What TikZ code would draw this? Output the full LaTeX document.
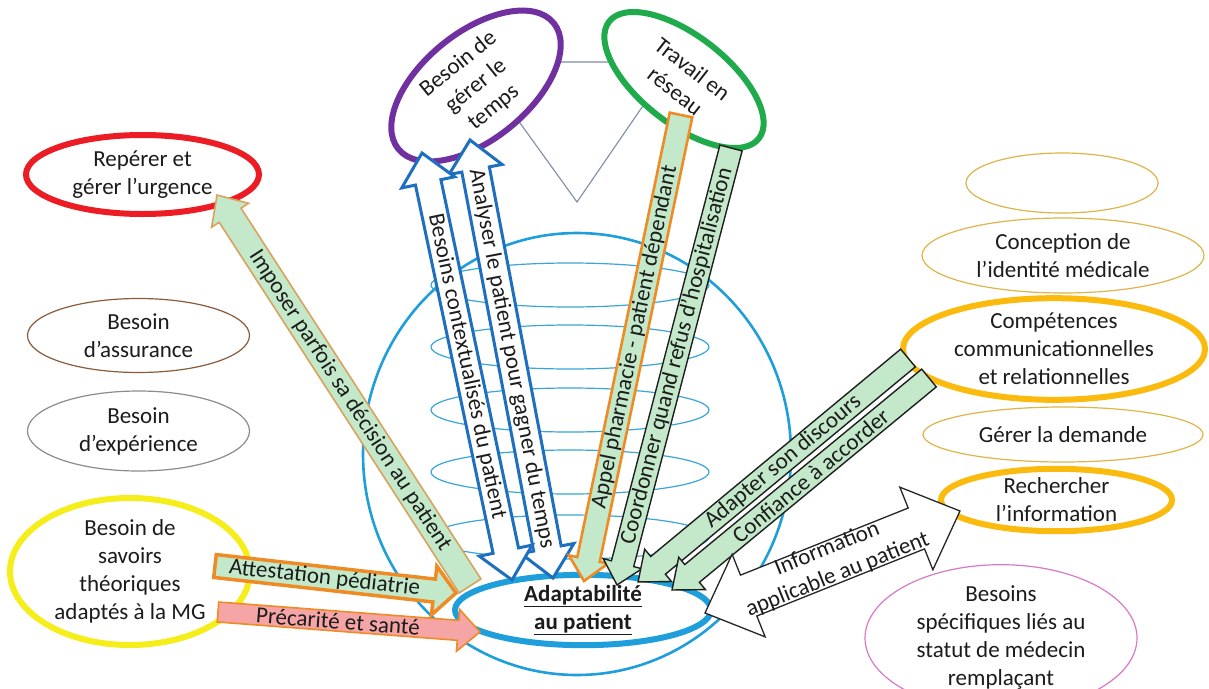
\documentclass[tikz,border=0pt]{standalone}
\usepackage{fontspec}
\setmainfont{Carlito}
\usetikzlibrary{shapes.geometric}

\definecolor{txtc}{HTML}{1C1C1C}
\definecolor{urgred}{HTML}{EC1C24}
\definecolor{purp}{HTML}{7030A0}
\definecolor{grnc}{HTML}{1FAA4B}
\definecolor{yelc}{HTML}{F5EE1A}
\definecolor{goldc}{HTML}{FBBA0E}
\definecolor{goldthin}{HTML}{DDB548}
\definecolor{brownc}{HTML}{8A5A3A}
\definecolor{grayc}{HTML}{8C8C8C}
\definecolor{pinkc}{HTML}{D67AC8}
\definecolor{skyb}{HTML}{1E9FDB}
\definecolor{ringb}{HTML}{3AA6D6}
\definecolor{arrblue}{HTML}{1F6FBF}
\definecolor{orng}{HTML}{EF8B24}
\definecolor{tanc}{HTML}{D9A35E}
\definecolor{lgrn}{HTML}{C3E8CA}
\definecolor{pinkf}{HTML}{F5A5A5}
\definecolor{trig}{HTML}{7F8DA6}

% block arrow with one head: style, label name, tail, tip, shaft width, head width, head length, label
\newcommand\blockarrow[8]{%
  \pgfpointdiff{\pgfpointanchor{#3}{center}}{\pgfpointanchor{#4}{center}}%
  \pgfgetlastxy{\arrdx}{\arrdy}%
  \pgfmathsetmacro\arrlen{veclen(\arrdx,\arrdy)}%
  \pgfmathsetmacro\arrang{atan2(\arrdy,\arrdx)}%
  \pgfmathsetmacro\arrtxt{\arrang>90 ? \arrang-180 : (\arrang<-90 ? \arrang+180 : \arrang)}%
  \pgfmathsetmacro\arrsw{#5/2}%
  \pgfmathsetmacro\arrhw{#6/2}%
  \pgfmathsetmacro\arrhb{\arrlen-#7}%
  \pgfmathsetmacro\arrmid{\arrhb/2}%
  \begin{scope}[shift={(#3)}, rotate=\arrang]
    \draw[#1] (0pt,-\arrsw pt) -- (\arrhb pt,-\arrsw pt) -- (\arrhb pt,-\arrhw pt)
      -- (\arrlen pt,0pt) -- (\arrhb pt,\arrhw pt) -- (\arrhb pt,\arrsw pt)
      -- (0pt,\arrsw pt) -- cycle;
    \node[lbl, rotate=\arrtxt] (#2) at (\arrmid pt,0pt) {#8};
  \end{scope}%
}
% block arrow with a head at both ends
\newcommand\blockdarrow[8]{%
  \pgfpointdiff{\pgfpointanchor{#3}{center}}{\pgfpointanchor{#4}{center}}%
  \pgfgetlastxy{\arrdx}{\arrdy}%
  \pgfmathsetmacro\arrlen{veclen(\arrdx,\arrdy)}%
  \pgfmathsetmacro\arrang{atan2(\arrdy,\arrdx)}%
  \pgfmathsetmacro\arrtxt{\arrang>90 ? \arrang-180 : (\arrang<-90 ? \arrang+180 : \arrang)}%
  \pgfmathsetmacro\arrsw{#5/2}%
  \pgfmathsetmacro\arrhw{#6/2}%
  \pgfmathsetmacro\arrhb{\arrlen-#7}%
  \pgfmathsetmacro\arrmid{\arrlen/2}%
  \begin{scope}[shift={(#3)}, rotate=\arrang]
    \draw[#1] (0pt,0pt) -- (#7pt,\arrhw pt) -- (#7pt,\arrsw pt) -- (\arrhb pt,\arrsw pt)
      -- (\arrhb pt,\arrhw pt) -- (\arrlen pt,0pt) -- (\arrhb pt,-\arrhw pt)
      -- (\arrhb pt,-\arrsw pt) -- (#7pt,-\arrsw pt) -- (#7pt,-\arrhw pt) -- cycle;
    \node[lbl, rotate=\arrtxt] (#2) at (\arrmid pt,0pt) {#8};
  \end{scope}%
}

\begin{document}
\begin{tikzpicture}[x=1pt, y=-1pt,
  lbl/.style={text=txtc, font=\fontsize{23}{28}\selectfont, align=center, inner sep=0pt},
  bub/.style={ellipse, lbl, fill=white},
  thinbub/.style={bub, line width=1.2pt},
  thickbub/.style={bub, line width=6pt},
  ring/.style={draw=ringb, line width=1.2pt},
  tri/.style={draw=trig, line width=1.1pt},
  grnarr/.style={fill=lgrn, draw=black!88, line width=1.4pt, line join=miter},
  orgarr/.style={fill=lgrn, draw=orng, line width=2.6pt, line join=miter},
  tanarr/.style={fill=lgrn, draw=tanc, line width=1.6pt, line join=miter},
  pnkarr/.style={fill=pinkf, draw=orng, line width=1.6pt, line join=miter},
  bluarr/.style={fill=white, draw=arrblue, line width=3pt, line join=miter},
  whtarr/.style={fill=white, draw=black!85, line width=1.3pt, line join=miter}]

\useasboundingbox (0,0) rectangle (1209,688);
\fill[white] (0,0) rectangle (1209,688);

% triangle linking the two top bubbles
\coordinate (triA) at (476,62);
\coordinate (triB) at (673,62);
\coordinate (triC) at (577,202);
\draw[tri] (triA) -- (triB) -- (triC) -- cycle;

% sphere with its rings
\node[ellipse, draw=skyb, line width=2.6pt, minimum width=428, minimum height=442, inner sep=0pt] (sphere) at (577,454) {};
\foreach \ry in {285,347,410,472,537}
  \draw[ring] (570,\ry) ellipse [x radius=139, y radius=22];

% left bubbles
\node[thickbub, draw=urgred, minimum width=233, minimum height=79] (urg) at (142.5,174.5) {Repérer et\\gérer l’urgence};
\node[thinbub, draw=brownc, minimum width=222, minimum height=74] (assur) at (138.5,335.5) {Besoin\\d’assurance};
\node[thinbub, draw=grayc, minimum width=222, minimum height=80] (exper) at (138.5,431) {Besoin\\d’expérience};
\node[thickbub, draw=yelc, minimum width=240, minimum height=147] (savoirs) at (130,571.5) {Besoin de\\savoirs\\théoriques\\adaptés à la MG};

% top bubbles
\node[thickbub, draw=purp, minimum width=200, minimum height=90, rotate=39] (temps) at (476,86) {Besoin de\\gérer le\\temps};
\node[thickbub, draw=grnc, minimum width=190, minimum height=88, rotate=-38] (reseau) at (684,80) {Travail en\\réseau};

% right bubbles
\node[thinbub, draw=goldthin, minimum width=192, minimum height=60] (vide) at (1062,183) {};
\node[thinbub, draw=goldthin, minimum width=282, minimum height=75] (identite) at (1063,255.5) {Conception de\\l’identité médicale};
\node[thickbub, draw=goldc, minimum width=302, minimum height=92] (compet) at (1054,349) {Compétences\\communicationnelles\\et relationnelles};
\node[thinbub, draw=goldthin, minimum width=280, minimum height=55] (demande) at (1063,434.5) {Gérer la demande};
\node[thickbub, draw=goldc, minimum width=231, minimum height=58] (recherche) at (1056.5,500) {Rechercher\\l’information};
\node[thinbub, draw=pinkc, minimum width=272, minimum height=120] (rempl) at (1001,638) {Besoins\\spécifiques liés au\\statut de médecin\\remplaçant};

% central bubble
\node[thickbub, draw=skyb, minimum width=256, minimum height=64] (adapt) at (583,610) {\underline{\textbf{Adaptabilité}}\\\underline{\textbf{au patient}}};

% arrow end points
\coordinate (aT) at (470,586);  \coordinate (aH) at (217,195);
\coordinate (b1U) at (422,153); \coordinate (b1D) at (512,580);
\coordinate (b2U) at (470,140); \coordinate (b2D) at (553,578);
\coordinate (cT) at (681,115);  \coordinate (cH) at (584,581);
\coordinate (dT) at (731,148);  \coordinate (dH) at (617,585);
\coordinate (eT) at (908,358);  \coordinate (eH) at (638,582);
\coordinate (fT) at (929,378);  \coordinate (fH) at (672,590);
\coordinate (gL) at (705,613);  \coordinate (gR) at (960,511);
\coordinate (hT) at (215,566);  \coordinate (hH) at (456,593);
\coordinate (iT) at (218,612);  \coordinate (iH) at (480,632);

% arrows
\blockarrow{orgarr, line width=3.5pt}{attest}{hT}{hH}{23}{49}{22}{Attestation pédiatrie}
\blockarrow{pnkarr}{precar}{iT}{iH}{20}{42}{22}{Précarité et santé}
\blockarrow{tanarr}{imposer}{aT}{aH}{26}{44}{24}{Imposer parfois sa décision au patient}
\blockdarrow{bluarr}{analyser}{b2U}{b2D}{28}{54}{30}{Analyser le patient pour gagner du temps}
\blockdarrow{bluarr}{besctx}{b1U}{b1D}{26}{54}{30}{Besoins contextualisés du patient}
\blockarrow{orgarr}{appel}{cT}{cH}{23}{40}{22}{Appel pharmacie - patient dépendant}
\blockarrow{grnarr}{coord}{dT}{dH}{23}{40}{22}{Coordonner quand refus d’hospitalisation}
\blockarrow{grnarr}{discours}{eT}{eH}{23}{42}{26}{Adapter son discours}
\blockarrow{grnarr}{confiance}{fT}{fH}{23}{42}{26}{Confiance à accorder}
\blockdarrow{whtarr}{info}{gL}{gR}{44}{89}{47}{Information\\applicable au patient}

\end{tikzpicture}
\end{document}
